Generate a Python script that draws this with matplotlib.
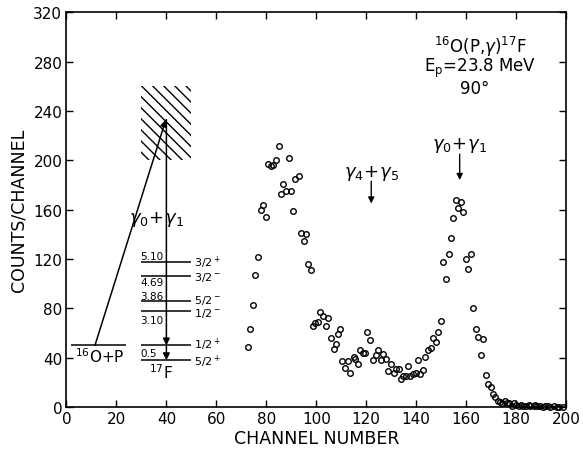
"""
16O(p,gamma)17F spectrum at Ep = 23.8 MeV, 90 deg, with level-scheme inset.
"""
import numpy as np
import matplotlib
matplotlib.use('Agg')
import matplotlib.pyplot as plt
from matplotlib.patches import Rectangle

# ---- Data ----
channel = [72.5, 73.5, 74.5, 75.5, 76.6, 77.7, 78.7, 79.8, 80.6, 81.7,
           82.7, 83.7, 84.9, 85.7, 86.8, 87.9, 88.9, 89.7, 90.8, 91.6,
           93.2, 93.8, 94.9, 95.9, 96.7, 97.7, 98.5, 99.5, 100.6, 101.6,
           102.7, 103.7, 104.8, 105.9, 107.0, 107.7, 108.5, 109.6, 110.4, 111.5,
           112.5, 113.6, 114.9, 115.7, 116.7, 117.5, 118.6, 119.4, 120.5, 121.7,
           122.7, 123.8, 124.9, 125.9, 126.7, 127.8, 128.9, 129.9, 131.0, 132.0,
           133.0, 133.9, 134.9, 135.9, 136.7, 137.7, 138.8, 139.9, 140.6, 141.6,
           142.7, 143.7, 144.8, 146.0, 146.9, 147.8, 148.9, 150.0, 150.9, 151.9,
           153.0, 153.8, 154.9, 155.9, 156.9, 157.8, 158.9, 159.8, 160.9, 161.8,
           162.7, 163.9, 164.9, 165.9, 166.9, 167.8, 168.7, 169.8, 170.7, 171.7,
           172.6, 173.5, 174.5, 175.4, 176.3, 177.3, 178.2, 179.1, 180.0, 181.0,
           181.9, 182.9, 183.9, 185.0, 185.7, 187.0, 187.6, 188.5, 189.5, 190.7,
           191.6, 192.7, 193.6, 195.3, 196.3, 197.3, 198.7]
counts = [49, 63, 83, 107, 122, 160, 164, 154, 197, 195,
          196, 200, 212, 173, 181, 175, 202, 175, 159, 185,
          187, 141, 135, 140, 116, 111, 66, 68, 69, 77,
          74, 66, 72, 56, 47, 51, 59, 63, 37, 32,
          37, 28, 41, 39, 35, 46, 44, 44, 61, 54,
          38, 42, 46, 38, 43, 39, 29, 35, 28, 31,
          31, 23, 25, 25, 33, 25, 27, 28, 38, 27,
          30, 41, 46, 48, 56, 53, 61, 70, 118, 104,
          124, 137, 153, 168, 161, 166, 158, 120, 112, 124,
          80, 63, 57, 42, 55, 26, 19, 16, 11, 8,
          5, 4, 3, 5, 3, 3, 1, 3, 2, 1,
          2, 1, 1, 2, 1, 1, 2, 1, 1, 0,
          1, 1, 0, 1, 0, 0, 0]

# Level scheme of 17F (drawn in channel/count units)
level_y = [118, 106, 86, 78, 50, 38]
level_spin = ['3/2$^+$', '3/2$^-$', '5/2$^-$', '1/2$^-$', '1/2$^+$', '5/2$^+$']
spin_y = [118, 106, 87.5, 76.5, 51, 37.5]
energy_text = ['5.10', '4.69', '3.86', '3.10', '0.5']
energy_y = [122.5, 101, 90, 71, 44]
entrance_y = 50          # 16O+p threshold
compound_y = 233         # excited region
hatch_box = (30, 200, 20, 60)   # x, y, width, height

# ---- Plot ----
plt.rcParams.update({
    'font.family': 'DejaVu Sans', 'font.size': 10,
    'mathtext.fontset': 'dejavusans', 'hatch.linewidth': 1.0,
})

fig = plt.figure(figsize=(5.83, 4.56), dpi=100)
ax = fig.add_axes([0.114, 0.105, 0.857, 0.866])

ax.plot(channel, counts, 'o', ms=4, mfc='none', mec='black', mew=1.0, clip_on=False, zorder=3)

ax.set_xlim(0, 200)
ax.set_ylim(0, 320)
ax.set_xticks(np.arange(0, 201, 20))
ax.set_yticks(np.arange(0, 321, 40))
ax.tick_params(direction='in', top=True, right=True, length=5, width=1.0,
               labelsize=11, pad=3)
for s in ax.spines.values():
    s.set_linewidth(1.2)
ax.set_xlabel('CHANNEL NUMBER', fontsize=12.5, labelpad=2)
ax.set_ylabel('COUNTS/CHANNEL', fontsize=12.5, labelpad=4)

# ---- level scheme ----
ax.add_patch(Rectangle(hatch_box[:2], hatch_box[2], hatch_box[3], fill=False,
                       hatch='\\\\\\', linewidth=0, edgecolor='black'))
ax.hlines(entrance_y, 2, 24, color='black', lw=1.1)
ax.text(13.5, 42, r'$^{16}$O+P', ha='center', va='center', fontsize=11)
ax.annotate('', xy=(39.8, compound_y), xytext=(11.4, entrance_y),
            arrowprops=dict(arrowstyle='-|>', color='black', lw=1.1,
                            shrinkA=0, shrinkB=0, mutation_scale=10))
ax.annotate('', xy=(40, level_y[4]), xytext=(40, compound_y),
            arrowprops=dict(arrowstyle='-|>', color='black', lw=1.1,
                            shrinkA=0, shrinkB=0, mutation_scale=10))
ax.annotate('', xy=(40, level_y[5]), xytext=(40, level_y[4]),
            arrowprops=dict(arrowstyle='-|>', color='black', lw=1.1,
                            shrinkA=0, shrinkB=0, mutation_scale=10))
ax.text(36, 153, r'$\gamma_0\!+\!\gamma_1$', ha='center', va='center', fontsize=13)

ax.hlines(level_y, 30, 50, color='black', lw=1.1)
for y, s in zip(spin_y, level_spin):
    ax.text(51, y, s, ha='left', va='center', fontsize=8)
for y, e in zip(energy_y, energy_text):
    ax.text(29.5, y, e, ha='left', va='center', fontsize=7.5)
ax.text(38, 29, r'$^{17}$F', ha='center', va='center', fontsize=11)

# ---- peak labels ----
ax.text(122, 190, r'$\gamma_4\!+\!\gamma_5$', ha='center', va='center', fontsize=13)
ax.annotate('', xy=(122, 165), xytext=(122, 183),
            arrowprops=dict(arrowstyle='-|>', color='black', lw=1.0,
                            shrinkA=0, shrinkB=0, mutation_scale=9))
ax.text(157.4, 213, r'$\gamma_0\!+\!\gamma_1$', ha='center', va='center', fontsize=13)
ax.annotate('', xy=(157.4, 184), xytext=(157.4, 205),
            arrowprops=dict(arrowstyle='-|>', color='black', lw=1.0,
                            shrinkA=0, shrinkB=0, mutation_scale=9))

# ---- reaction text ----
ax.text(165.5, 293, r'$^{16}$O(P,$\gamma$)$^{17}$F', ha='center', va='center', fontsize=12)
ax.text(165.5, 275, r'E$_\mathrm{p}$=23.8 MeV', ha='center', va='center', fontsize=12)
ax.text(163.5, 258.5, '90°', ha='center', va='center', fontsize=12)

fig.savefig('out.png', dpi=100)
plt.close()
